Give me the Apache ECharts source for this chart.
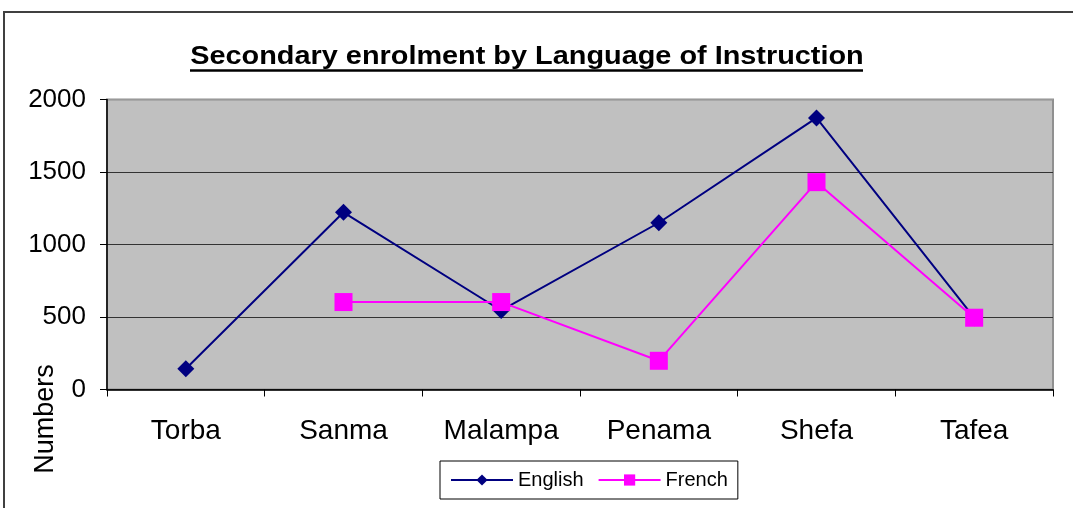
<!DOCTYPE html>
<html><head><meta charset="utf-8">
<script src="https://cdn.jsdelivr.net/npm/echarts@6/dist/echarts.min.js"></script>
<style>html,body{margin:0;padding:0;background:#fff}#c{width:1073px;height:508px}</style>
</head><body><div id="c"></div>
<script>
const titleText = 'Secondary enrolment by Language of Instruction';
const categories = ['Torba', 'Sanma', 'Malampa', 'Penama', 'Shefa', 'Tafea'];
const english = [143, 1222, 545, 1150, 1873, 495];
const french = [null, 603, 603, 198, 1430, 495];
const yTicks = [0, 500, 1000, 1500, 2000];
const yName = 'Numbers';

const font = 'Liberation Sans, Arial, sans-serif';
const chart = echarts.init(document.getElementById('c'), null, {renderer: 'canvas'});
chart.setOption({
  animation: false,
  backgroundColor: '#fff',
  grid: {left: 107, right: 20, top: 99.5, bottom: 118.5, show: true,
    backgroundColor: '#c0c0c0', borderColor: '#909090', borderWidth: 2},
  legend: {
    left: 440, top: 461, width: 297, height: 38, padding: [9, 10, 9, 10],
    borderColor: '#000', borderWidth: 1, itemGap: 14,
    itemWidth: 62, itemHeight: 14,
    textStyle: {fontFamily: font, fontSize: 20, color: '#000'},
    data: ['English', 'French']
  },
  xAxis: {
    type: 'category', data: categories, boundaryGap: true,
    axisLine: {lineStyle: {color: '#000', width: 1.5}},
    axisTick: {show: true, length: 7, inside: false, lineStyle: {color: '#000'}},
    axisLabel: {fontFamily: font, fontSize: 28, color: '#000', margin: 28}
  },
  yAxis: {
    type: 'value', min: yTicks[0], max: yTicks[yTicks.length - 1], interval: 500,
    axisLine: {show: true, lineStyle: {color: '#000', width: 1.5}},
    axisTick: {show: true, length: 7, lineStyle: {color: '#000'}},
    axisLabel: {fontFamily: font, fontSize: 26, color: '#000', margin: 21,
      formatter: v => String(v)},
    splitLine: {show: true, lineStyle: {color: ['#333', '#333', '#333', '#333', '#999'], width: 1}}
  },
  series: [
    {name: 'English', type: 'line', data: english, symbol: 'diamond', symbolSize: 17,
      lineStyle: {color: '#000080', width: 2}, itemStyle: {color: '#000080'}, z: 3},
    {name: 'French', type: 'line', data: french, symbol: 'rect', symbolSize: 18,
      connectNulls: false,
      lineStyle: {color: '#ff00ff', width: 2}, itemStyle: {color: '#ff00ff'}, z: 4}
  ],
  graphic: [
    {type: 'rect', shape: {x: 4, y: 12, width: 1100, height: 520}, silent: true,
      style: {fill: null, stroke: '#404040', lineWidth: 2}},
    {type: 'text', x: 527, y: 57, scaleX: 1.11,
      style: {text: titleText, fontFamily: font, fontWeight: 'bold', fontSize: 26, fill: '#000',
        align: 'center', verticalAlign: 'middle'}},
    {type: 'line', shape: {x1: 190, y1: 70.5, x2: 863, y2: 70.5},
      style: {stroke: '#000', lineWidth: 2.5}},
    {type: 'text', x: 46, y: 419, rotation: Math.PI / 2,
      style: {text: yName, fontFamily: font, fontSize: 27, fill: '#000', align: 'center', verticalAlign: 'middle'}}
  ]
});
</script></body></html>
